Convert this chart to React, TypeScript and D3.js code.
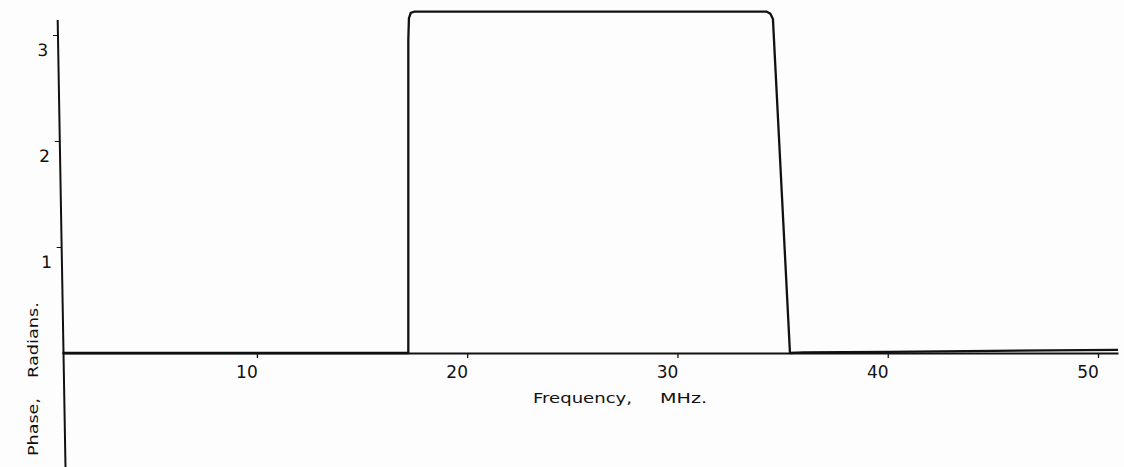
import React, { useEffect, useRef } from 'react';
import * as d3 from 'd3';

// Phase response of the band-pass section, sampled at the corners of the trace.
const freqMHz = [0.75, 17.2, 17.2, 17.23, 17.32, 17.5, 34.25, 34.42, 34.54, 35.35, 36.0, 40.0, 45.0, 50.95];
const phaseRad = [0, 0, 2.95, 3.16, 3.21, 3.22, 3.22, 3.2, 3.15, 0, 0.005, 0.01, 0.02, 0.03];

const xTicks = [10, 20, 30, 40, 50];
const yTicks = [1, 2, 3];
const xTitleParts = ['Frequency,', 'MHz.'];
const yTitleParts = ['Phase,', 'Radians.'];

const W = 1124;
const H = 467;
const INK = '#111';
const FONT = '"DejaVu Sans", sans-serif';

export default function App() {
  const ref = useRef<SVGSVGElement | null>(null);

  useEffect(() => {
    const svg = d3.select(ref.current);
    svg.selectAll('*').remove();

    const x = d3.scaleLinear().domain([0.75, 50.95]).range([62.4, 1118]);
    const y = d3.scaleLinear().domain([0, 3]).range([353, 35]);
    const y0 = y(0);

    svg.append('rect').attr('width', W).attr('height', H).attr('fill', '#fdfdfd');

    // Frequency axis
    const gx = svg
      .append('g')
      .attr('transform', `translate(0,${y0})`)
      .call(
        d3
          .axisBottom(x)
          .tickValues(xTicks)
          .tickSize(5)
          .tickSizeOuter(0)
          .tickFormat(d3.format('d'))
      );
    gx.select('.domain').attr('stroke', INK).attr('stroke-width', 2);
    gx.selectAll('.tick line').attr('stroke', INK).attr('stroke-width', 1.3);
    gx.selectAll('.tick text')
      .attr('fill', INK)
      .attr('font-family', FONT)
      .attr('font-size', 17)
      .attr('dx', -10.5)
      .attr('y', 25)
      .attr('dy', 0);

    // Phase axis (the plotter's vertical axis leans slightly)
    const axX = 63.5;
    const gy = svg
      .append('g')
      .attr('transform', `translate(${axX},${y0}) skewX(1) translate(0,${-y0})`)
      .call(
        d3
          .axisLeft(y)
          .tickValues(yTicks)
          .tickSize(5)
          .tickSizeOuter(0)
          .tickFormat(d3.format('d'))
      );
    gy.select('.domain').remove();
    gy.append('line')
      .attr('x1', 0)
      .attr('x2', 0)
      .attr('y1', y(Math.PI))
      .attr('y2', H + 5)
      .attr('stroke', INK)
      .attr('stroke-width', 2);
    gy.selectAll('.tick line').attr('stroke', INK).attr('stroke-width', 1.2);
    gy.selectAll('.tick text')
      .attr('fill', INK)
      .attr('font-family', FONT)
      .attr('font-size', 17)
      .attr('x', -10)
      .attr('y', 21)
      .attr('dy', 0);

    // Phase trace
    const pts = freqMHz.map((f, i) => [f, phaseRad[i]] as [number, number]);
    const line = d3
      .line<[number, number]>()
      .x((d) => x(d[0]))
      .y((d) => y(d[1]))
      .curve(d3.curveLinear);
    svg
      .append('path')
      .attr('d', line(pts) ?? '')
      .attr('fill', 'none')
      .attr('stroke', INK)
      .attr('stroke-width', 2.3)
      .attr('stroke-linejoin', 'round');

    // Axis titles
    const xt = svg
      .append('g')
      .attr('font-family', FONT)
      .attr('font-size', 14)
      .attr('fill', INK);
    xt.append('text')
      .attr('x', 533)
      .attr('y', 403)
      .attr('textLength', 99)
      .attr('lengthAdjust', 'spacingAndGlyphs')
      .text(xTitleParts[0]);
    xt.append('text')
      .attr('x', 660)
      .attr('y', 403)
      .attr('textLength', 47)
      .attr('lengthAdjust', 'spacingAndGlyphs')
      .text(xTitleParts[1]);

    const yt = svg
      .append('g')
      .attr('font-family', FONT)
      .attr('font-size', 14)
      .attr('fill', INK)
      .attr('transform', 'translate(38,0) rotate(-90)');
    yt.append('text')
      .attr('x', -456)
      .attr('y', 0)
      .attr('textLength', 58)
      .attr('lengthAdjust', 'spacingAndGlyphs')
      .text(yTitleParts[0]);
    yt.append('text')
      .attr('x', -378)
      .attr('y', 0)
      .attr('textLength', 76)
      .attr('lengthAdjust', 'spacingAndGlyphs')
      .text(yTitleParts[1]);
  }, []);

  return (
    <svg
      ref={ref}
      width={W}
      height={H}
      style={{ position: 'absolute', left: 0, top: 0, display: 'block' }}
    />
  );
}
